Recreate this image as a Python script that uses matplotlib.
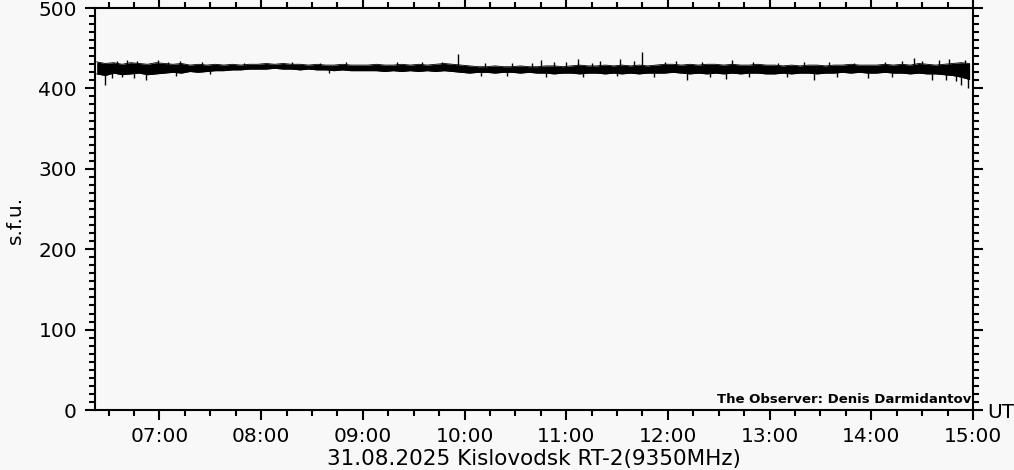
import matplotlib
matplotlib.use('Agg')
import matplotlib.pyplot as plt
from matplotlib.ticker import MultipleLocator, FixedLocator
import numpy as np

# time of each envelope sample, minutes after 00:00 UT (every 5 min, 06:23 .. 14:58)
minutes = list(range(383, 899, 5))

# upper / lower edge of the noise band, s.f.u.
band_hi = [433, 431, 432, 430, 432, 431, 430, 432,
           431, 430, 431, 429, 430, 429, 430, 429, 430, 429, 430, 430,
           431, 430, 431, 430, 430, 429, 430, 429, 429, 430, 429, 429,
           429, 430, 429, 429, 430, 429, 430, 429, 430, 431, 430, 429,
           428, 427, 427, 428, 427, 427, 428, 427, 427, 428, 428, 427,
           428, 429, 428, 428, 429, 428, 429, 428, 429, 428, 429, 430,
           430, 429, 430, 429, 430, 430, 429, 430, 429, 429, 430, 429,
           429, 428, 429, 428, 429, 429, 428, 429, 429, 430, 429, 429,
           429, 430, 429, 430, 429, 431, 430, 429, 430, 431, 432, 431]
band_lo = [418, 416, 419, 417, 418, 419, 417, 418,
           419, 420, 419, 421, 420, 421, 422, 422, 423, 423, 424, 424,
           424, 425, 424, 424, 423, 424, 423, 423, 422, 423, 422, 422,
           422, 422, 421, 422, 421, 422, 421, 422, 421, 422, 421, 420,
           419, 420, 420, 419, 420, 420, 419, 420, 419, 419, 418, 419,
           419, 418, 419, 419, 418, 419, 418, 419, 418, 419, 419, 419,
           420, 419, 418, 419, 418, 419, 418, 419, 418, 419, 419, 418,
           418, 419, 418, 419, 419, 418, 419, 419, 420, 419, 420, 419,
           419, 420, 419, 419, 418, 419, 418, 418, 417, 416, 414, 411]

# spikes sticking out of the band (minute, s.f.u.)
spike_min = [388, 412, 419, 587, 596, 645, 648, 653, 667, 680, 692, 705,
             731, 754, 758, 806, 865, 876, 886, 890, 893, 895, 897,
             395, 401, 407, 425, 432, 445, 470, 498, 515, 530, 560, 575,
             612, 628, 640, 660, 675, 700, 718, 725, 740, 770, 785, 800,
             815, 830, 848, 858, 870, 880,
             392, 398, 405, 430, 450, 520, 610, 625, 670, 690, 712, 745,
             768, 790, 820, 838, 852, 884]
spike_val = [404, 410, 435, 433, 443, 435, 414, 433, 437, 434, 437, 445,
             411, 412, 435, 410, 438, 410, 437, 409, 404, 435, 401,
             434, 435, 434, 433, 434, 433, 432, 433, 432, 433, 433, 433,
             431, 431, 432, 433, 432, 434, 433, 434, 433, 433, 432, 433,
             433, 432, 433, 434, 434, 435,
             413, 414, 413, 416, 418, 419, 416, 415, 414, 415, 414, 414,
             414, 414, 414, 413, 414, 411]

hour_ticks = [420, 480, 540, 600, 660, 720, 780, 840, 900]
hour_labels = ['07:00', '08:00', '09:00', '10:00', '11:00', '12:00',
               '13:00', '14:00', '15:00']

title = '31.08.2025 Kislovodsk RT-2(9350MHz)'
observer = 'The Observer: Denis Darmidantov'

bg = '#f8f8f8'
plt.rcParams['font.family'] = ['DejaVu Sans']

fig = plt.figure(figsize=(10.14, 4.70), dpi=100)
fig.patch.set_facecolor(bg)
ax = fig.add_axes([95 / 1014, 60 / 470, 878 / 1014, 402 / 470])
ax.set_facecolor(bg)

t = np.array(minutes)
hi = np.array(band_hi)
lo = np.array(band_lo)
ax.fill_between(t, lo, hi, color='k', linewidth=0)
ax.plot(t, hi, color='k', lw=0.6)
ax.plot(t, lo, color='k', lw=0.6)
mid = np.interp(spike_min, t, (hi + lo) / 2)
ax.vlines(spike_min, mid, spike_val, color='k', lw=1.0)

ax.set_xlim(382, 900)
ax.set_ylim(0, 500)

ax.xaxis.set_major_locator(FixedLocator(hour_ticks))
ax.set_xticklabels(hour_labels)
ax.xaxis.set_minor_locator(MultipleLocator(15))
ax.yaxis.set_major_locator(MultipleLocator(100))
ax.yaxis.set_minor_locator(MultipleLocator(10))

for s in ax.spines.values():
    s.set_linewidth(1.5)
ax.tick_params(which='both', direction='out', top=True, right=True,
               width=1.5, labelsize=14.5, colors='k')
ax.tick_params(which='major', length=7, pad=6)
ax.tick_params(which='minor', length=4)
ax.tick_params(axis='x', which='major', pad=5)

fig.text(15 / 1014, 1 - 220 / 470, 's.f.u.', rotation=90, ha='center',
         va='center', fontsize=14.5)
fig.text(987 / 1014, 1 - 413 / 470, 'UT', ha='left', va='center', fontsize=14.5)
fig.text(534 / 1014, 1 / 470, title, ha='center', va='bottom',
         fontsize=15.5)
ax.text(0.998, 0.01, observer, transform=ax.transAxes, ha='right',
        va='bottom', fontsize=9.5, fontweight='bold')

fig.savefig('out.png', dpi=100, facecolor=bg)
